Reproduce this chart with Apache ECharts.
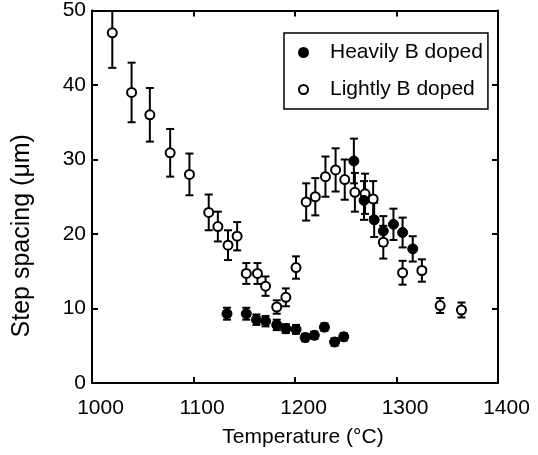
<!DOCTYPE html>
<html>
<head>
<meta charset="utf-8">
<script src="https://cdn.jsdelivr.net/npm/echarts@6/dist/echarts.min.js"></script>
<style>
html,body{margin:0;padding:0;background:#fff;}
#chart{width:538px;height:455px;}
</style>
</head>
<body>
<div id="chart"></div>
<script>
// Lightly B doped (open circles)
var lightT = [1020, 1039, 1057, 1077, 1096, 1115, 1124, 1134, 1143, 1152, 1163, 1171, 1182, 1191, 1201, 1211, 1220, 1230, 1240, 1249, 1259, 1269, 1277, 1287, 1306, 1325, 1343, 1364];
var lightV = [47.0, 39.0, 36.0, 30.9, 28.0, 22.9, 21.0, 18.5, 19.7, 14.7, 14.7, 13.0, 10.2, 11.5, 15.5, 24.3, 25.0, 27.7, 28.6, 27.3, 25.6, 25.4, 24.7, 18.9, 14.8, 15.1, 10.4, 9.8];
var lightErr = [4.7, 4.0, 3.6, 3.2, 2.8, 2.4, 2.0, 2.0, 1.9, 1.4, 1.4, 1.3, 0.9, 1.2, 1.5, 2.5, 2.5, 2.7, 2.9, 2.7, 2.6, 2.7, 2.4, 2.2, 1.6, 1.5, 1.0, 1.0];

// Heavily B doped (filled circles)
var heavyT = [1133, 1152, 1162, 1171, 1182, 1191, 1201, 1210, 1219, 1229, 1239, 1248, 1258, 1268, 1278, 1287, 1297, 1306, 1316];
var heavyV = [9.3, 9.3, 8.5, 8.3, 7.8, 7.3, 7.2, 6.1, 6.4, 7.5, 5.5, 6.2, 29.8, 24.5, 21.9, 20.4, 21.3, 20.2, 18.0];
var heavyErr = [0.8, 0.8, 0.7, 0.7, 0.7, 0.6, 0.6, 0.5, 0.5, 0.5, 0.5, 0.5, 3.0, 2.6, 2.3, 2.0, 2.1, 2.0, 1.7];

var xTicks = [1000, 1100, 1200, 1300, 1400];
var yTicks = [0, 10, 20, 30, 40, 50];

var xMin = xTicks[0], xMax = xTicks[xTicks.length - 1];
var yMin = yTicks[0], yMax = yTicks[yTicks.length - 1];

function pts(t, v) { return t.map(function (x, i) { return [x, v[i]]; }); }
function errs(t, v, e) { return t.map(function (x, i) { return [x, v[i] - e[i], v[i] + e[i]]; }); }

var FONT = '"Liberation Sans", Arial, Helvetica, sans-serif';

function errRender(params, api) {
  var x = api.value(0);
  var lo = Math.max(api.value(1), yMin);
  var hi = Math.min(api.value(2), yMax);
  var pLo = api.coord([x, lo]);
  var pHi = api.coord([x, hi]);
  var cap = 4;
  var st = { stroke: '#000', lineWidth: 2 };
  var children = [
    { type: 'line', shape: { x1: pLo[0], y1: pLo[1], x2: pHi[0], y2: pHi[1] }, style: st }
  ];
  if (api.value(1) >= yMin) children.push({ type: 'line', shape: { x1: pLo[0] - cap, y1: pLo[1], x2: pLo[0] + cap, y2: pLo[1] }, style: st });
  if (api.value(2) <= yMax) children.push({ type: 'line', shape: { x1: pHi[0] - cap, y1: pHi[1], x2: pHi[0] + cap, y2: pHi[1] }, style: st });
  return { type: 'group', children: children };
}

function mkLine() { return { show: true, onZero: false, lineStyle: { color: '#000', width: 2 } }; }
function mkTick() { return { show: true, inside: true, length: 6, lineStyle: { color: '#000', width: 2 } }; }
function plain(v) { return String(v); }

var chart = echarts.init(document.getElementById('chart'), null, { renderer: 'canvas' });

chart.setOption({
  animation: false,
  backgroundColor: '#fff',
  textStyle: { fontFamily: FONT, color: '#000' },
  grid: { left: 92, right: 40, top: 10.5, bottom: 72, containLabel: false },
  legend: {
    data: ['Heavily B doped', 'Lightly B doped'],
    orient: 'vertical',
    left: 284,
    top: 33,
    padding: [9, 5, 9, 14],
    itemGap: 16,
    itemWidth: 9,
    itemHeight: 9,
    borderColor: '#000',
    borderWidth: 1.5,
    backgroundColor: '#fff',
    textStyle: { fontFamily: FONT, fontSize: 21, color: '#000', padding: [0, 0, 0, 17] }
  },
  xAxis: [{
    type: 'value', min: xMin, max: xMax, interval: 100,
    name: 'Temperature (\u00B0C)', nameLocation: 'middle', nameGap: 44,
    nameTextStyle: { fontFamily: FONT, fontSize: 21, color: '#000', padding: [0, 0, 0, 16] },
    axisLine: mkLine(), axisTick: mkTick(), splitLine: { show: false },
    axisLabel: { fontFamily: FONT, fontSize: 21, color: '#000', margin: 15, formatter: plain, padding: [0, 0, 0, 17] }
  }, {
    type: 'value', min: xMin, max: xMax, interval: 100, position: 'top',
    axisLine: mkLine(), axisTick: mkTick(), splitLine: { show: false }, axisLabel: { show: false }
  }],
  yAxis: [{
    type: 'value', min: yMin, max: yMax, interval: 10,
    name: 'Step spacing (\u03BCm)', nameLocation: 'middle', nameGap: 57,
    nameTextStyle: { fontFamily: FONT, fontSize: 25, color: '#000', padding: [0, 78, 0, 0] },
    axisLine: mkLine(), axisTick: mkTick(), splitLine: { show: false },
    axisLabel: { fontFamily: FONT, fontSize: 21, color: '#000', margin: 6, formatter: plain, padding: [12, 0, 0, 0] }
  }, {
    type: 'value', min: yMin, max: yMax, interval: 10, position: 'right',
    axisLine: mkLine(), axisTick: mkTick(), splitLine: { show: false }, axisLabel: { show: false }
  }],
  series: [
    { name: 'light-err', type: 'custom', renderItem: errRender, data: errs(lightT, lightV, lightErr), z: 2, silent: true },
    { name: 'heavy-err', type: 'custom', renderItem: errRender, data: errs(heavyT, heavyV, heavyErr), z: 2, silent: true },
    {
      name: 'Lightly B doped', type: 'scatter', data: pts(lightT, lightV), symbol: 'circle', symbolSize: 9, z: 3,
      itemStyle: { color: '#fff', borderColor: '#000', borderWidth: 2, opacity: 1 }
    },
    {
      name: 'Heavily B doped', type: 'scatter', data: pts(heavyT, heavyV), symbol: 'circle', symbolSize: 10, z: 4,
      itemStyle: { color: '#000', borderColor: '#000', borderWidth: 1, opacity: 1 }
    }
  ]
});
</script>
</body>
</html>
